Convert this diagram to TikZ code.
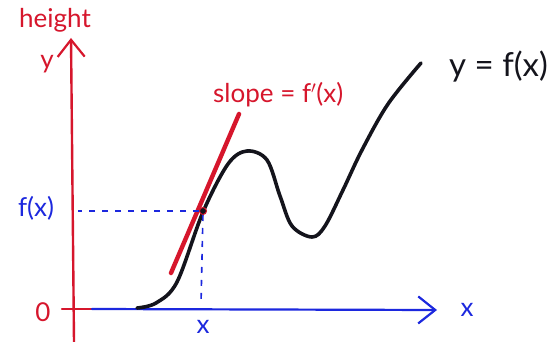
\documentclass[tikz,border=0pt]{standalone}
\usepackage{fontspec}
\setmainfont{Lato}
\usepackage{tikz}
\usetikzlibrary{arrows.meta, positioning, calc}
\definecolor{axisred}{RGB}{214,22,44}
\definecolor{axisblue}{RGB}{28,40,222}
\definecolor{inkblack}{RGB}{20,20,28}

\begin{document}
\begin{tikzpicture}[
    x=1pt, y=-1pt,
    redaxis/.style={draw=axisred, line width=2.4pt, line cap=round},
    blueaxis/.style={draw=axisblue, line width=2.2pt, line cap=round},
    guide/.style={draw=axisblue, line width=1.6pt, dash pattern=on 6pt off 7pt},
    redlbl/.style={text=axisred, font=\fontsize{26}{28}\selectfont, inner sep=0pt},
    bluelbl/.style={text=axisblue, font=\fontsize{26}{28}\selectfont, inner sep=0pt},
    barb/.style={-{Straight Barb[length=17pt,width=27pt,line width=2.2pt]}}
]
    \useasboundingbox (0,0) rectangle (557,342);

    % --- axes ---
    \coordinate (ybot) at (74,342);
    \coordinate (ytop) at (71,38);
    \coordinate (xleft) at (92,309);
    \coordinate (xright) at (437,310);
    \coordinate (tickl) at (62,309);
    \draw[redaxis, barb] (ybot) -- (ytop);
    \draw[redaxis] (tickl) -- (xleft);
    \draw[blueaxis, barb] (xleft) -- (xright);

    % --- axis labels ---
    \node[redlbl] (hgt) at (55,20) {height};
    \node[redlbl] (ylbl) at (47,64) {y};
    \node[redlbl] (zero) at (43,312) {0};
    \node[bluelbl] (xlbl) at (467,310) {x};

    % --- curve y = f(x) ---
    \draw[inkblack, line width=3.6pt, line cap=round] plot[smooth, tension=0.55] coordinates {
        (137,308) (156,303) (177,282) (203,212) (228,164) (247,151)
        (267,160) (280,196) (292,226) (312,237) (325,226) (343,190)
        (362,150) (388,104) (421,63)};
    \node[text=inkblack, font=\fontsize{33}{35}\selectfont, inner sep=0pt, anchor=west] (flbl) at (449,67) {y = f(x)};

    % --- tangent at x ---
    \coordinate (tanlo) at (171,273);
    \coordinate (tanhi) at (239,114);
    \draw[axisred, line width=4.4pt, line cap=round] (tanlo) -- (tanhi);
    \node[redlbl, anchor=west] (slp) at (213,95) {slope = f$'$(x)};

    % --- the point (x, f(x)) ---
    \node[circle, fill=inkblack, draw=axisred, line width=1pt, inner sep=0pt, minimum size=7pt] (pt) at (203,211) {};
    \coordinate (fxend) at (78,211);
    \coordinate (xend) at (201,305);
    \draw[guide] (pt) -- (fxend);
    \draw[guide] (pt) -- (xend);
    \node[bluelbl] (fx) at (36,208) {f(x)};
    \node[bluelbl] (xtick) at (203,327) {x};
\end{tikzpicture}
\end{document}
